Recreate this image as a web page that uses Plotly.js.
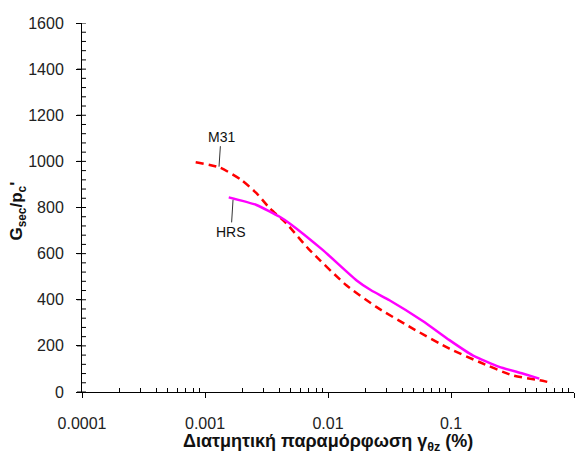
<!DOCTYPE html>
<html>
<head>
<meta charset="utf-8">
<script src="https://cdn.plot.ly/plotly-3.0.1.min.js"></script>
<style>html,body{margin:0;padding:0;background:#fff}#chart{width:578px;height:453px}</style>
</head>
<body>
<div id="chart"></div>
<script>
// Data
const m31Strain = [0.00084, 0.00132, 0.00198, 0.00262, 0.00336, 0.00459, 0.00688, 0.0141, 0.0247, 0.0489, 0.0971, 0.170, 0.317, 0.522, 0.670];
const m31Gsec   = [996,     973,     919,     862,     797,     731,     623,     463,    369,    275,    188,    130,   72,    51,    39];
const hrsStrain = [0.00156, 0.00262, 0.00405, 0.00488, 0.0091, 0.0170, 0.0224, 0.0316, 0.0589, 0.0971, 0.150, 0.247, 0.382, 0.522];
const hrsGsec   = [844,     811,     760,     731,     615,    485,    441,    398,    308,    225,    159,   109,   80,    58];
const xTickVals = [0.0001, 0.001, 0.01, 0.1, 1];
const xTickText = ["0.0001", "0.001", "0.01", "0.1", "1"];
const yTickVals = [0, 200, 400, 600, 800, 1000, 1200, 1400, 1600];
const seriesNames = ["M31", "HRS"];
const xTitle = "<b>Διατμητική παραμόρφωση γ<sub>θz</sub> (%)</b>";
const yTitle = "<b>G<sub>sec</sub>/p<sub>c</sub>'</b>";

const font = "Liberation Sans, Arial, sans-serif";
const W = 578, H = 453, M = {l: 82, r: 3.5, t: 23.3, b: 61.3};
const plotW = W - M.l - M.r, plotH = H - M.t - M.b;

// small inside ticks at 2..9 of every decade (axis decoration)
const xMinorVals = [];
for (let e = -4; e < 0; e++) for (let m = 2; m <= 9; m++) xMinorVals.push(m * Math.pow(10, e));
// small inside ticks every 40 units (axis decoration)
const yMinorVals = [];
for (let v = 0; v <= 1600; v += 40) if (v % 200 !== 0) yMinorVals.push(v);

// tick decorations as shapes (crossing major ticks, inside minor ticks)
const tickLine = {color: "#000", width: 1};
const shapes = [];
yMinorVals.forEach(v => shapes.push({type: "line", xref: "paper", yref: "y", x0: 0, x1: 4 / plotW, y0: v, y1: v, line: tickLine, layer: "above"}));
yTickVals.forEach(v => shapes.push({type: "line", xref: "paper", yref: "y", x0: -5 / plotW, x1: 4 / plotW, y0: v, y1: v, line: tickLine, layer: "above"}));
xTickVals.forEach(v => shapes.push({type: "line", xref: "x", yref: "paper", x0: Math.log10(v), x1: Math.log10(v), y0: -5 / plotH, y1: 4 / plotH, line: tickLine, layer: "above"}));

const traces = [
  {x: m31Strain, y: m31Gsec, name: seriesNames[0], type: "scatter", mode: "lines",
   line: {color: "#FF0000", width: 2.5, dash: "8px,5px", shape: "spline", smoothing: 0.6}},
  {x: hrsStrain, y: hrsGsec, name: seriesNames[1], type: "scatter", mode: "lines",
   line: {color: "#FF00FF", width: 2.5, shape: "spline", smoothing: 0.5}}
];

const layout = {
  width: W, height: H,
  margin: M,
  paper_bgcolor: "#fff", plot_bgcolor: "#fff",
  showlegend: false,
  font: {family: font, color: "#222", size: 15},
  xaxis: {
    type: "log", range: [-4, 0],
    tickvals: xTickVals, ticktext: xTickText,
    ticks: "outside", ticklen: 5, tickwidth: 1, tickcolor: "#000",
    ticklabelstandoff: 12,
    showline: true, linecolor: "#000", linewidth: 1,
    showgrid: false, zeroline: false,
    tickfont: {size: 16, family: font, color: "#222"},
    minor: {tickmode: "array", tickvals: xMinorVals, ticks: "inside", ticklen: 4, tickcolor: "#000", tickwidth: 1, showgrid: false}
  },
  yaxis: {
    range: [0, 1600],
    tickvals: yTickVals,
    ticks: "outside", ticklen: 5, tickwidth: 1, tickcolor: "#000",
    ticklabelstandoff: 9,
    showline: true, linecolor: "#000", linewidth: 1,
    showgrid: false, zeroline: false,
    tickfont: {size: 16, family: font, color: "#222"}
  },
  shapes: shapes,
  annotations: [
    {xref: "paper", yref: "paper", x: 0.5, y: -0.136, xanchor: "center", yanchor: "middle",
     text: xTitle, showarrow: false, font: {size: 18, family: font, color: "#111"}},
    {xref: "paper", yref: "paper", x: -0.13, y: 0.489, xanchor: "center", yanchor: "middle",
     text: yTitle, textangle: -90, showarrow: false, font: {size: 17, family: font, color: "#111"}},
    {x: Math.log10(0.0013), y: 977, xref: "x", yref: "y", text: seriesNames[0],
     showarrow: true, arrowhead: 0, arrowwidth: 1, arrowcolor: "#333", ax: 2, ay: -30,
     font: {size: 14, family: font, color: "#111"}},
    {x: Math.log10(0.00169), y: 833, xref: "x", yref: "y", text: seriesNames[1],
     showarrow: true, arrowhead: 0, arrowwidth: 1, arrowcolor: "#333", ax: -2, ay: 32,
     font: {size: 14, family: font, color: "#111"}}
  ]
};

Plotly.newPlot("chart", traces, layout, {displayModeBar: false, staticPlot: true});
</script>
</body>
</html>
